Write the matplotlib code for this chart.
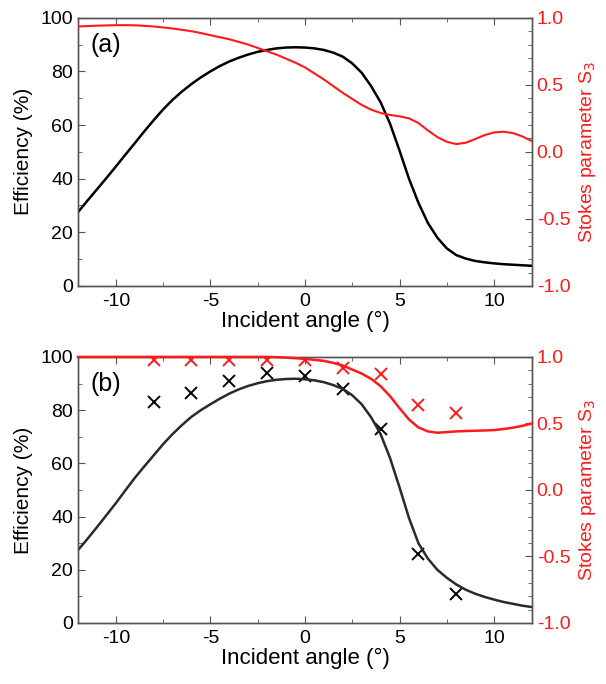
import numpy as np
import matplotlib
matplotlib.use("Agg")
import matplotlib.pyplot as plt
from matplotlib.ticker import MultipleLocator

plt.rcParams['font.family'] = ['Liberation Sans', 'DejaVu Sans']
plt.rcParams['axes.unicode_minus'] = False

# angle grid of the simulated curves (0.5 deg steps)
ang = [-12, -11.5, -11, -10.5, -10, -9.5, -9, -8.5, -8, -7.5, -7, -6.5, -6, -5.5,
       -5, -4.5, -4, -3.5, -3, -2.5, -2, -1.5, -1, -0.5, 0, 0.5, 1, 1.5, 2, 2.5,
       3, 3.5, 4, 4.5, 5, 5.5, 6, 6.5, 7, 7.5, 8, 8.5, 9, 9.5, 10, 10.5, 11, 11.5, 12]

# (a) simulated curves
eff_a = [27.5, 31.8, 36, 40.2, 44.5, 48.9, 53.2, 57.6, 61.8, 65.8, 69.4, 72.5,
         75.3, 77.8, 80, 82, 83.7, 85.1, 86.3, 87.3, 88.0, 88.6, 88.9, 89.0, 88.9,
         88.6, 88, 87, 85.5, 83, 79.5, 74.5, 68.5, 60.5, 50.5, 40, 31, 23.5, 18,
         14, 11.5, 10.2, 9.3, 8.8, 8.4, 8.1, 7.9, 7.7, 7.5]
s3_a = [0.935, 0.938, 0.941, 0.943, 0.945, 0.945, 0.944, 0.94, 0.935, 0.928, 0.92,
        0.91, 0.9, 0.886, 0.87, 0.855, 0.84, 0.82, 0.8, 0.775, 0.75, 0.725, 0.695,
        0.665, 0.63, 0.585, 0.54, 0.49, 0.44, 0.395, 0.35, 0.315, 0.29, 0.275,
        0.265, 0.25, 0.215, 0.16, 0.11, 0.075, 0.058, 0.068, 0.095, 0.125, 0.145,
        0.15, 0.14, 0.115, 0.08]

# (b) simulated curves
eff_b = [27.4, 31.6, 36, 40.5, 45, 49.8, 54.5, 58.8, 63, 67.2, 71, 74.4, 77.5, 80,
         82.2, 84.3, 86.2, 87.8, 89.1, 90.1, 90.9, 91.4, 91.7, 91.8, 91.6, 91.2,
         90.5, 89.4, 88, 85.6, 82.2, 77.3, 71, 62, 51, 39.5, 30, 24.2, 20, 17, 14.5,
         12.5, 11, 9.8, 8.8, 7.9, 7.2, 6.5, 6]
s3_b = [1.0, 1.0, 1.0, 1.0, 1.0, 1.0, 1.0, 1.0, 1.0, 1.0, 1.0, 1.0, 1.0, 1.0, 1.0,
        1.0, 1.0, 1.0, 1.0, 1.0, 1.0, 0.998, 0.995, 0.99, 0.985, 0.978, 0.97,
        0.955, 0.935, 0.905, 0.875, 0.835, 0.78, 0.705, 0.615, 0.53, 0.47, 0.44,
        0.43, 0.435, 0.44, 0.443, 0.445, 0.447, 0.45, 0.458, 0.468, 0.482, 0.5]

# (b) measured points
ang_meas = [-8, -6, -4, -2, 0, 2, 4, 6, 8]
eff_meas = [83, 86.5, 91, 94, 93, 88, 73, 26, 11]
s3_meas = [0.98, 0.98, 0.98, 0.98, 0.98, 0.92, 0.87, 0.64, 0.58]

RED = '#ff1a1a'
SPINE = '#555555'

fig = plt.figure(figsize=(6.06, 6.84), dpi=100)
ax_a = fig.add_axes([0.1287, 0.582, 0.749, 0.392])
ax_b = fig.add_axes([0.1287, 0.0892, 0.749, 0.389])


def style(ax, label):
    ax2 = ax.twinx()
    ax.set_xlim(-12, 12)
    ax.set_ylim(0, 100)
    ax2.set_ylim(-1, 1)
    ax.xaxis.set_major_locator(MultipleLocator(5))
    ax.xaxis.set_minor_locator(MultipleLocator(2.5))
    ax.yaxis.set_major_locator(MultipleLocator(20))
    ax.yaxis.set_minor_locator(MultipleLocator(10))
    ax2.yaxis.set_major_locator(MultipleLocator(0.5))
    ax2.yaxis.set_minor_locator(MultipleLocator(0.1))
    ax.tick_params(axis='x', which='both', direction='in', top=True,
                   labelsize=14, pad=5, color=SPINE)
    ax.tick_params(axis='y', which='both', direction='in', right=False,
                   labelsize=14, color=SPINE)
    ax.tick_params(which='major', length=5)
    ax.tick_params(which='minor', length=3)
    ax2.tick_params(axis='y', which='both', direction='in', labelsize=14,
                    labelcolor=RED, color=SPINE)
    ax2.tick_params(which='major', length=5)
    ax2.tick_params(which='minor', length=3)
    ax2.yaxis.set_major_formatter(plt.FuncFormatter(lambda v, p: f"{v:.1f}"))
    for a in (ax, ax2):
        for s in a.spines.values():
            s.set_color(SPINE)
            s.set_linewidth(1.0)
    ax.set_xlabel('Incident angle (°)', fontsize=16, labelpad=1)
    ax.set_ylabel('Efficiency (%)', fontsize=15)
    ax.yaxis.set_label_coords(-0.1, 0.5)
    ax2.set_ylabel('Stokes parameter S$_3$', fontsize=14, color=RED)
    ax2.yaxis.set_label_coords(1.1, 0.5)
    ax.text(0.028, 0.9, label, transform=ax.transAxes, fontsize=18,
            ha='left', va='center')
    return ax2


ax2_a = style(ax_a, '(a)')
ax_a.plot(ang, eff_a, color='black', lw=1.8, zorder=3, solid_joinstyle='round')
ax2_a.plot(ang, s3_a, color=RED, lw=1.5, zorder=3, solid_joinstyle='round')

ax2_b = style(ax_b, '(b)')
ax_b.plot(ang, eff_b, color='#2a2a2a', lw=1.8, zorder=3, solid_joinstyle='round')
ax_b.plot(ang_meas, eff_meas, linestyle='none', marker='x', color='black',
          markersize=9, mew=1.4)
ax2_b.plot(ang, s3_b, color=RED, lw=1.8, zorder=3, clip_on=False,
           solid_joinstyle='round')
ax2_b.plot(ang_meas, s3_meas, linestyle='none', marker='x', color=RED,
           markersize=9, mew=1.4)

fig.savefig('out.png', dpi=100)
